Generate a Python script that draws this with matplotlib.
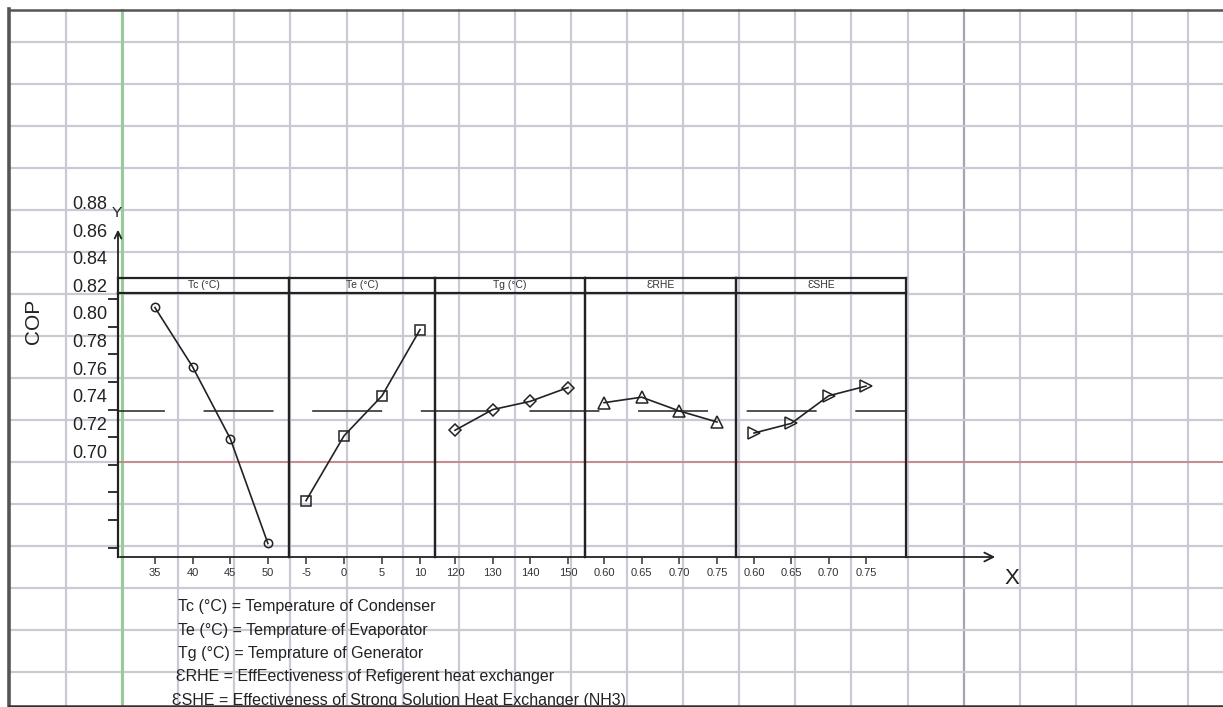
import matplotlib
matplotlib.use("Agg")
import matplotlib.pyplot as plt
import numpy as np

plt.rcParams["font.family"] = ["Liberation Sans", "DejaVu Sans"]

# ============================================================
# DATOS
# ============================================================
tc_levels = [35, 40, 45, 50]
tc_cop = [0.804, 0.761, 0.709, 0.633]

te_levels = [-5, 0, 5, 10]
te_cop = [0.664, 0.711, 0.740, 0.788]

tg_levels = [120, 130, 140, 150]
tg_cop = [0.715, 0.730, 0.736, 0.746]

rhe_levels = [0.60, 0.65, 0.70, 0.75]
rhe_cop = [0.735, 0.739, 0.729, 0.721]

she_levels = [0.60, 0.65, 0.70, 0.75]
she_cop = [0.713, 0.720, 0.740, 0.747]

panel_titles = ["Tc (°C)", "Te (°C)", "Tg (°C)", "ƐRHE", "ƐSHE"]
tick_labels = [
    ["35", "40", "45", "50"],
    ["-5", "0", "5", "10"],
    ["120", "130", "140", "150"],
    ["0.60", "0.65", "0.70", "0.75"],
    ["0.60", "0.65", "0.70", "0.75"],
]
y_labels = [0.70, 0.72, 0.74, 0.76, 0.78, 0.80, 0.82, 0.84, 0.86, 0.88]
y_marks = [0.63, 0.65, 0.67, 0.69, 0.71, 0.73, 0.75, 0.77, 0.79, 0.81]

notes = [
    "Tc (°C) = Temperature of Condenser",
    "Te (°C) = Temprature of Evaporator",
    "Tg (°C) = Temprature of Generator",
    "ƐRHE = EffEectiveness of Refigerent heat exchanger",
    "ƐSHE = Effectiveness of Strong Solution Heat Exchanger (NH3)",
]

levels = [tc_levels, te_levels, tg_levels, rhe_levels, she_levels]
cops = [tc_cop, te_cop, tg_cop, rhe_cop, she_cop]
markers = ["o", "s", "D", "^", ">"]
msizes = [6, 7.5, 6.5, 9, 9]
xlims = [(30.1, 52.8), (-7.24, 11.97), (114.7, 154.5), (0.5748, 0.7752), (0.5759, 0.8036)]

# ============================================================
# LAYOUT (pixeles)
# ============================================================
W, H = 1223, 707
panel_edges = [118, 289, 435, 585, 736, 906]
HEAD_TOP, HEAD_BOT, AX_BOT = 278, 293, 557
Y70_PX, PX_PER_UNIT = 451, 1380


def rect(x0, y0, x1, y1):
    return [x0 / W, 1 - y1 / H, (x1 - x0) / W, (y1 - y0) / H]


def val(ypx):
    return 0.70 + (Y70_PX - ypx) / PX_PER_UNIT


fig = plt.figure(figsize=(W / 100, H / 100), dpi=100)
fig.patch.set_facecolor("white")

# papel cuadriculado de fondo
bg = fig.add_axes([0, 0, 1, 1])
bg.set_xlim(0, W)
bg.set_ylim(H, 0)
bg.set_axis_off()
grid_c = "#cacad6"
for k in range(21):
    x = 66 + 56.1 * k
    bg.plot([x, x], [10, 706], color="#a4a4b4" if k == 16 else grid_c, lw=1.6, zorder=1)
for k in range(1, 17):
    bg.plot([9, W], [42 * k, 42 * k], color=grid_c, lw=1.6, zorder=1)
bg.plot([122, 122], [10, 706], color="#97cb97", lw=2.2, zorder=2)
bg.plot([120, W], [462, 462], color="#c77a7a", lw=1.1, zorder=2)
bg.plot([9, 9], [9, 707], color="#555555", lw=2.6, zorder=5)
bg.plot([9, W], [10, 10], color="#555555", lw=1.8, zorder=5)
bg.plot([9, W], [706, 706], color="#333333", lw=1.8, zorder=5)

# ejes X e Y con flecha
bg.annotate("", xy=(998, AX_BOT), xytext=(117, AX_BOT),
            arrowprops=dict(arrowstyle="->", lw=1.3, color="#222222", mutation_scale=16))
bg.text(1012, 579, "X", fontsize=16, ha="center", va="center", color="#222222")
bg.text(117, 213, "Y", fontsize=11, ha="center", va="center", color="#222222")
bg.text(33, 321, "COP", fontsize=15, rotation=90, ha="center", va="center", color="#222222")

for i, line in enumerate(notes):
    bg.text(178 - (6 if i == 4 else 2 if i == 3 else 0), 607 + 23.3 * i, line,
            fontsize=11.5, ha="left", va="center", color="#222222", zorder=3)

# eje Y con etiquetas
ay = fig.add_axes(rect(panel_edges[0], 190, panel_edges[-1], AX_BOT))
ay.patch.set_alpha(0)
ay.set_xlim(0, 1)
ay.set_ylim(val(AX_BOT), val(190))
for s in ay.spines.values():
    s.set_visible(False)
ay.set_xticks([])
ay.set_yticks(y_labels)
ay.set_yticklabels([f"{v:.2f}" for v in y_labels], fontsize=13, color="#222222")
ay.tick_params(axis="y", which="major", length=0, pad=8)
ay.set_yticks(y_marks, minor=True)
ay.tick_params(axis="y", which="minor", length=7, width=1.3, direction="out", color="#222222")
ay.annotate("", xy=(0, val(227)), xytext=(0, val(AX_BOT)),
            xycoords=("axes fraction", "data"), annotation_clip=False,
            arrowprops=dict(arrowstyle="->", lw=1.3, color="#222222", mutation_scale=12))

# linea de media (discontinua)
mean_cop = np.mean(np.concatenate(cops))
ay_line = fig.add_axes(rect(panel_edges[0], HEAD_BOT, panel_edges[-1], AX_BOT))
ay_line.set_axis_off()
ay_line.set_xlim(0, 1)
ay_line.set_ylim(val(AX_BOT), val(HEAD_BOT))
ay_line.axhline(mean_cop, color="#222222", lw=1.1, ls=(15.1, (45.8, 25.3)))

# paneles
for i in range(5):
    x0, x1 = panel_edges[i], panel_edges[i + 1]
    ax = fig.add_axes(rect(x0, HEAD_BOT, x1, AX_BOT))
    ax.patch.set_alpha(0)
    ax.set_xlim(*xlims[i])
    ax.set_ylim(val(AX_BOT), val(HEAD_BOT))
    ax.plot(levels[i], cops[i], color="#222222", lw=1.2, marker=markers[i],
            ms=msizes[i], mfc="none", mec="#222222", mew=1.1)
    for side in ["top", "bottom"]:
        ax.spines[side].set_visible(False)
    for side in ["left", "right"]:
        ax.spines[side].set_linewidth(1.6)
        ax.spines[side].set_color("#222222")
    ax.set_yticks([])
    ax.set_xticks(levels[i])
    ax.set_xticklabels(tick_labels[i], fontsize=8, color="#333333")
    ax.tick_params(axis="x", length=5, width=1.1, direction="out", pad=3, color="#333333")

    hd = fig.add_axes(rect(x0, HEAD_TOP, x1, HEAD_BOT))
    hd.patch.set_alpha(0)
    hd.set_xticks([])
    hd.set_yticks([])
    for s in hd.spines.values():
        s.set_linewidth(1.6)
        s.set_color("#222222")
    hd.text(0.5, 0.5, panel_titles[i], fontsize=7.5, ha="center", va="center",
            transform=hd.transAxes, color="#333333")

fig.savefig("out.png", dpi=100)
